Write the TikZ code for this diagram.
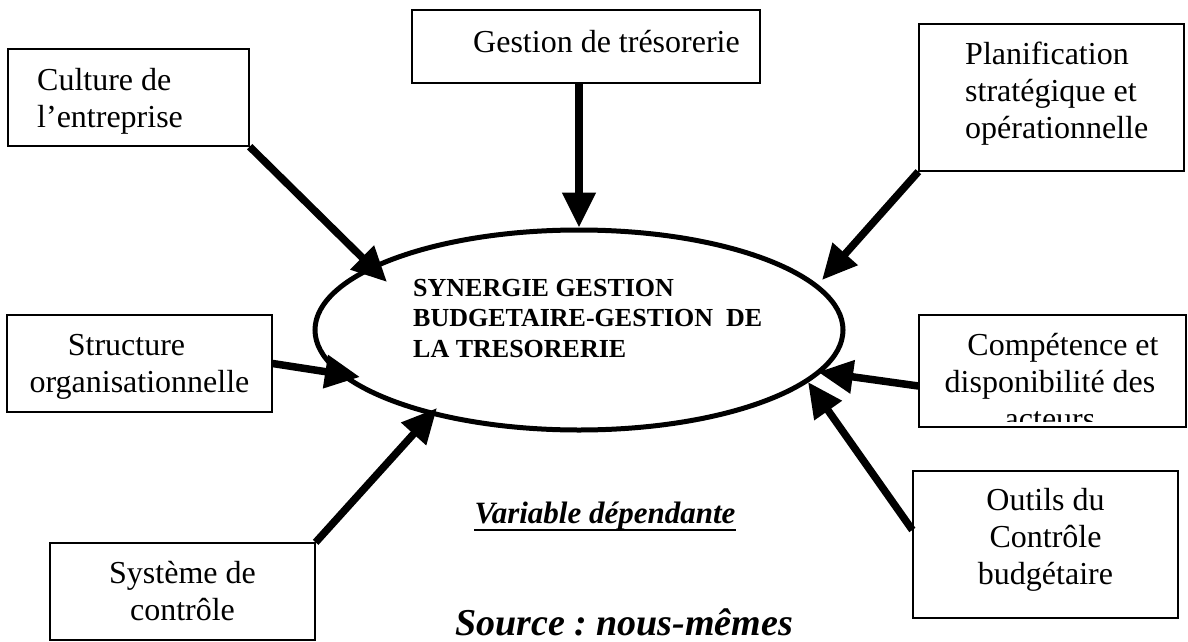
\documentclass[tikz,border=0pt]{standalone}
\usepackage{fontspec}
\setmainfont{Liberation Serif}
\usetikzlibrary{arrows.meta,shapes.geometric,calc}
\frenchspacing

\begin{document}
\begin{tikzpicture}[x=1pt,y=-1pt,
  frame/.style={draw,line width=1.3pt,inner sep=0pt},
  boxtext/.style={inner sep=0pt,font=\fontsize{32}{37}\selectfont},
  feed/.style={line width=7.5pt,-{Triangle[length=35pt,width=32pt]}},
]
\useasboundingbox (0,0) rectangle (1188,642);

% central variable
\node[draw,ellipse,line width=5pt,inner sep=0pt,
      minimum width=528pt,minimum height=200pt] (ell) at (579,330) {};
\node[anchor=north west,inner sep=0pt,align=left,
      font=\bfseries\fontsize{26}{30.5}\selectfont] (core) at (413,274)
  {\rule{0pt}{22pt}SYNERGIE GESTION\\BUDGETAIRE-GESTION\ \ DE\\LA TRESORERIE};

% explanatory boxes
\node[frame,minimum width=241pt,minimum height=97pt]  (cult)   at (128.5,97.5) {};
\node[frame,minimum width=348pt,minimum height=73pt]  (gest)   at (586,46.5) {};
\node[frame,minimum width=265pt,minimum height=147pt] (plan)   at (1051.5,97.5) {};
\node[frame,minimum width=265pt,minimum height=97pt]  (struct) at (139.5,363.5) {};
\node[frame,minimum width=267pt,minimum height=112pt] (comp)   at (1052.5,371) {};
\node[frame,minimum width=265pt,minimum height=97pt]  (syst)   at (182.5,591.5) {};
\node[frame,minimum width=265pt,minimum height=147pt] (outil)  at (1045.5,544.5) {};

% box labels
\node[boxtext,anchor=north west,align=left] (cultT) at (37,65)
  {\rule{0pt}{25pt}Culture de\\l’entreprise};
\node[boxtext,anchor=north west,align=left] (gestT) at (473,27)
  {\rule{0pt}{25pt}Gestion de trésorerie};
\node[boxtext,anchor=north west,align=left] (planT) at (965,39)
  {\rule{0pt}{25pt}Planification\\stratégique et\\opérationnelle};
\node[boxtext,anchor=north,align=center] (structT) at (139.5,330)
  {\rule{0pt}{25pt}Structure\hspace*{26pt}\\organisationnelle};
\begin{scope}
  \clip (919,315) rectangle (1186,421);
  \node[boxtext,anchor=north,align=center] (compT) at (1050,330)
    {\rule{0pt}{25pt}\hspace*{26pt}Compétence et\\disponibilité des\\acteurs};
\end{scope}
\node[boxtext,anchor=north,align=center] (systT) at (182.5,558)
  {\rule{0pt}{25pt}Système de\\contrôle};
\node[boxtext,anchor=north,align=center] (outilT) at (1045.5,485)
  {\rule{0pt}{25pt}Outils du\\Contrôle\\budgétaire};

% arrow tips on the ellipse
\coordinate (tCult)   at (387,282);
\coordinate (tPlan)   at (822,280);
\coordinate (tStruct) at (360,377);
\coordinate (tComp)   at (818,372);
\coordinate (tOutil)  at (808,382);
\coordinate (tSyst)   at (437,408);

\draw[feed] (cult.south east) -- (tCult);
\draw[feed] (gest.south -| ell.north) -- (ell.north);
\draw[feed] (plan.south west) -- (tPlan);
\draw[feed] (struct.east) -- (tStruct);
\draw[feed] ($(comp.west)+(0,15)$) -- (tComp);
\draw[feed] ($(outil.west)+(0,-14.5)$) -- (tOutil);
\draw[feed] (syst.north east) -- (tSyst);

% captions
\node[anchor=base,inner sep=0pt,font=\bfseries\itshape\fontsize{31}{36}\selectfont] (var) at (605,523)
  {Variable dépendante};
\draw[line width=2pt] ([yshift=-7pt]var.base west) -- ([yshift=-7pt]var.base east);
\node[anchor=base,inner sep=0pt,font=\bfseries\itshape\fontsize{38}{44}\selectfont] (src) at (624,635)
  {Source : nous-mêmes};
\end{tikzpicture}
\end{document}
